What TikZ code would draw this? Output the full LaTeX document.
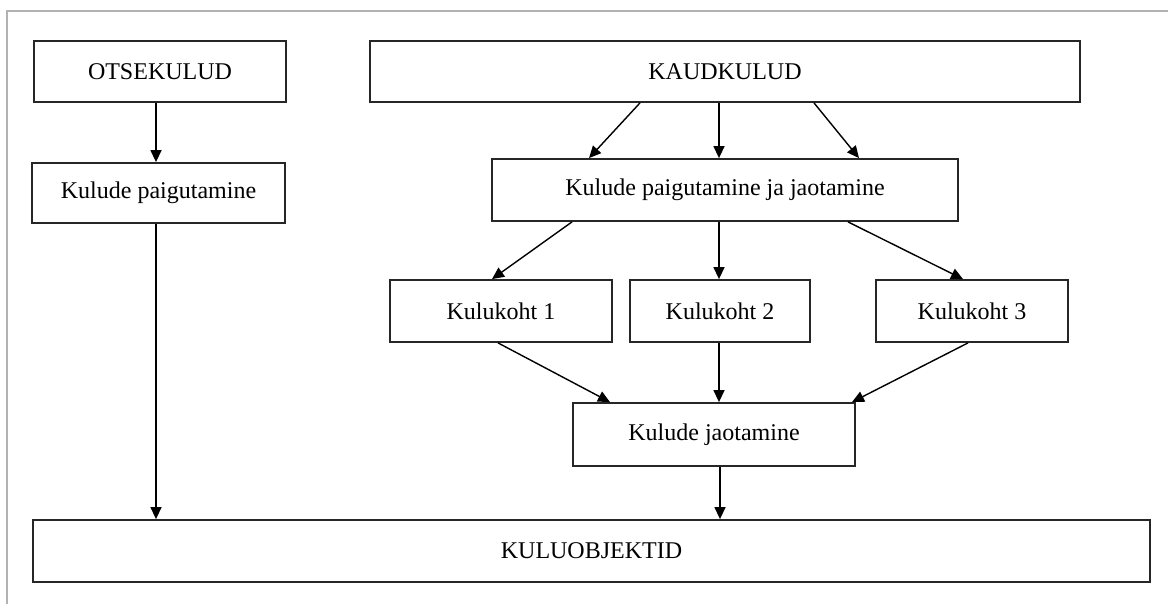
\documentclass[tikz,border=0pt]{standalone}
\usepackage{fontspec}
\setmainfont{Liberation Serif}
\usetikzlibrary{arrows.meta}
\begin{document}
\begin{tikzpicture}[x=1pt,y=-1pt,
  box/.style={draw=black!85,line width=1.8pt,fill=white,rectangle,inner sep=0pt,font=\fontsize{24}{28}\selectfont},
  arr/.style={draw=black,line width=1.4pt,-{Triangle[length=12pt,width=11pt]}},
  frame/.style={draw=black!30,line width=1.5pt}]
\useasboundingbox (0,0) rectangle (1168,604);
\draw[frame] (7,604) -- (7,11) -- (1168,11);
\node[box,minimum width=252pt,minimum height=61pt] (otse) at (160,71.5) {OTSEKULUD};
\node[box,minimum width=253pt,minimum height=60pt] (kp) at (158.5,193) {Kulude paigutamine};
\node[box,minimum width=710pt,minimum height=61pt] (kaud) at (725,71.5) {KAUDKULUD};
\node[box,minimum width=466pt,minimum height=62pt] (kpj) at (725,190) {Kulude paigutamine ja jaotamine};
\node[box,minimum width=222pt,minimum height=62pt] (k1) at (501,311) {Kulukoht 1};
\node[box,minimum width=180pt,minimum height=62pt] (k2) at (720,311) {Kulukoht 2};
\node[box,minimum width=192pt,minimum height=62pt] (k3) at (972,311) {Kulukoht 3};
\node[box,minimum width=282pt,minimum height=63pt] (kj) at (714,434.5) {Kulude jaotamine};
\node[box,minimum width=1117pt,minimum height=62pt] (obj) at (591.5,551) {KULUOBJEKTID};
\draw[arr] (otse.south -| 156,0) -- (kp.north -| 156,0);
\draw[arr] (kp.south -| 156,0) -- (obj.north -| 156,0);
\draw[arr] (kaud.south -| 640,0) -- (kpj.north -| 589,0);
\draw[arr] (kaud.south -| 719,0) -- (kpj.north -| 719,0);
\draw[arr] (kaud.south -| 814,0) -- (kpj.north -| 859,0);
\draw[arr] (kpj.south -| 572,0) -- (k1.north -| 492,0);
\draw[arr] (kpj.south -| 719,0) -- (k2.north -| 719,0);
\draw[arr] (kpj.south -| 848,0) -- (k3.north -| 963,0);
\draw[arr] (k1.south -| 498,0) -- (kj.north -| 610,0);
\draw[arr] (k2.south -| 719,0) -- (kj.north -| 719,0);
\draw[arr] (k3.south -| 968,0) -- (kj.north -| 852,0);
\draw[arr] (kj.south -| 720,0) -- (obj.north -| 720,0);
\end{tikzpicture}
\end{document}
